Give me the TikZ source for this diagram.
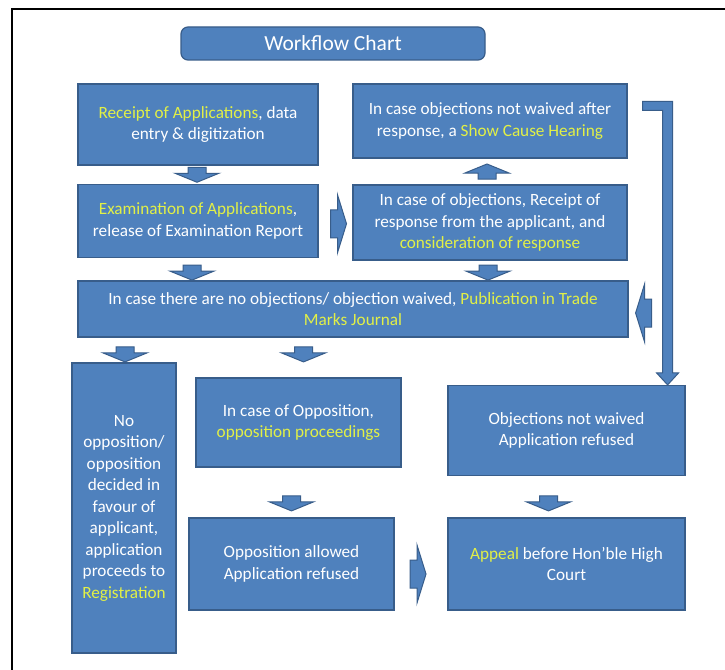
\documentclass[tikz,border=0pt]{standalone}
\usepackage{fontspec}
\setmainfont{Carlito}
\usetikzlibrary{calc}
\definecolor{boxc}{RGB}{79,129,189}
\definecolor{bordc}{RGB}{56,93,138}
\definecolor{hilite}{RGB}{226,240,70}
\newcommand{\hl}[1]{\textcolor{hilite}{#1}}
\begin{document}
\begin{tikzpicture}[x=1pt,y=-1pt,
  box/.style={draw=bordc, fill=boxc, line width=1.2pt, text=white, align=center,
    inner sep=0pt, font=\fontsize{17.2}{21.5}\selectfont},
  arrowsty/.style={draw=bordc, fill=boxc, line width=1pt, line join=miter},
  dnblk/.pic={\filldraw[arrowsty] (-9,-7.5) -- (9,-7.5) -- (9,-1.5) -- (22,-1.5) -- (0,7.5) -- (-22,-1.5) -- (-9,-1.5) -- cycle;},
  rtblk/.pic={\filldraw[arrowsty] (-8,-14) -- (-1,-14) -- (-1,-29) -- (8,0) -- (-1,29) -- (-1,14) -- (-8,14) -- cycle;},
]
\useasboundingbox (0,0) rectangle (725,669);
\fill[white] (0,0) rectangle (725,669);
% frame
\draw[line width=2.6pt] (727,9) -- (12,9) -- (12,671);

% title
\node[box, rounded corners=7pt, minimum width=304pt, minimum height=33pt,
  font=\fontsize{21.5}{24}\selectfont] (title) at (333,43.5) {Workflow Chart};

% boxes
\node[box, minimum width=240pt, minimum height=81pt] (b1) at (198,124.5)
  {\hl{Receipt of Applications}, data\\entry \& digitization};
\node[box, minimum width=274pt, minimum height=74pt] (b2) at (490,121)
  {In case objections not waived after\\response, a \hl{Show Cause Hearing}};
\node[box, minimum width=240pt, minimum height=73pt] (b3) at (198,221)
  {\hl{Examination of Applications},\\release of Examination Report};
\node[box, minimum width=274pt, minimum height=75pt] (b4) at (490,222.5)
  {In case of objections, Receipt of\\response from the applicant, and\\\hl{consideration of response}};
\node[box, minimum width=550pt, minimum height=56pt] (b5) at (353,309)
  {In case there are no objections/ objection waived, \hl{Publication in Trade}\\\hl{Marks Journal}};
\node[box, minimum width=104pt, minimum height=290pt] (b6) at (124,508)
  {No\\opposition/\\opposition\\decided in\\favour of\\applicant,\\application\\proceeds to\\\hl{Registration}};
\node[box, minimum width=205pt, minimum height=89pt] (b7) at (298.5,422.5)
  {In case of Opposition,\\\hl{opposition proceedings}};
\node[box, minimum width=237pt, minimum height=90pt] (b8) at (566.5,430.5)
  {Objections not waived\\Application refused};
\node[box, minimum width=205pt, minimum height=92pt] (b9) at (291.5,564)
  {Opposition allowed\\Application refused};
\node[box, minimum width=237pt, minimum height=92pt] (b10) at (566.5,564)
  {\hl{Appeal} before Hon’ble High\\Court};

% block arrows
\pic at ($(b1.south)!0.5!(b3.north)+(-1,0)$) {dnblk};
\pic[rotate=180] at ($(b2.south)!0.5!(b4.north)+(-3,0)$) {dnblk};
\pic at ($(b3.east)!0.5!(b4.west)+(3,2)$) {rtblk};
\pic at ($(b3.south)+(-6,14.5)$) {dnblk};
\pic at ($(b4.south)+(-2,12)$) {dnblk};
\pic[rotate=180] at ($(b5.east)+(15,4)$) {rtblk};
\pic at ($(b6.north)+(1,-8)$) {dnblk};
\pic at ($(b7.north)+(5,-23)$) {dnblk};
\pic at ($(b9.north)+(0,-14)$) {dnblk};
\pic at ($(b10.north)+(-18,-14)$) {dnblk};
\pic at ($(b9.east)!0.5!(b10.west)+(-3,10)$) {rtblk};

% bent connector from b2 to b8
\coordinate (cs) at ($(b2.north east)+(15,22.5)$);
\coordinate (ce) at ($(b8.north east)+(-18,0)$);
\filldraw[arrowsty] let \p1=(cs), \p2=(ce) in
  (\x1,\y1+4.5pt) -- (\x2+5pt,\y1+4.5pt) -- (\x2+5pt,\y2+12pt) -- (\x2+11pt,\y2+12pt)
  -- (\x2,\y2) -- (\x2-11pt,\y2+12pt) -- (\x2-5pt,\y2+12pt) -- (\x2-5pt,\y1-4.5pt)
  -- (\x1,\y1-4.5pt) -- cycle;
\end{tikzpicture}
\end{document}
